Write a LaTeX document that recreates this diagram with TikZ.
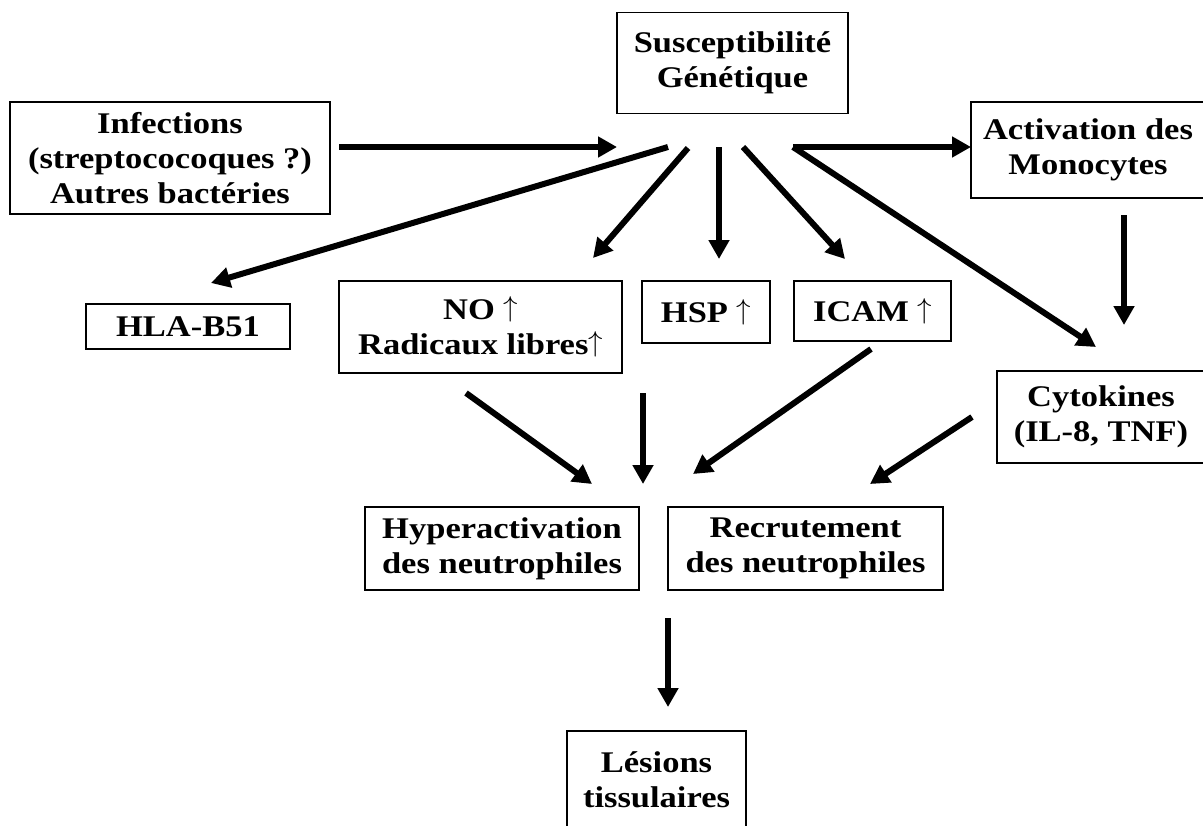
\documentclass[tikz,border=0pt]{standalone}
\usepackage{fontspec}
\setmainfont{Liberation Serif}[FakeStretch=1.15]
\usetikzlibrary{arrows.meta}
\newcommand{\uparr}{\raisebox{1.6pt}{$\uparrow$}}
\begin{document}
\begin{tikzpicture}[x=0.5pt,y=-0.5pt,
  box/.style={draw=black, line width=0.85pt, inner sep=2pt, align=center,
    font=\bfseries\fontsize{15}{17.5}\selectfont},
  arr/.style={line width=3pt, -{Triangle[length=9.5pt,width=10pt]}}]
\useasboundingbox[fill=white] (0,0) rectangle (1203,825);
% boxes
\node[box, minimum width=115.5pt, minimum height=50.5pt] (sus) at (732.5,63) {Susceptibilité\\Génétique};
\node[box, minimum width=160pt, minimum height=56pt] (inf) at (170,158) {Infections\\(streptococoques ?)\\Autres bactéries};
\node[box, minimum width=117pt, minimum height=48pt] (act) at (1088,150) {Activation des\\Monocytes};
\node[box, minimum width=102pt, minimum height=22.5pt] (hla) at (188,326.5) {HLA-B51};
\node[box, minimum width=141.5pt, minimum height=46pt] (no) at (480.5,327) {NO \uparr\\Radicaux libres\uparr};
\node[box, minimum width=64pt, minimum height=31pt] (hsp) at (706,312) {HSP \uparr};
\node[box, minimum width=78.5pt, minimum height=30pt] (icam) at (872.5,311) {ICAM \uparr};
\node[box, minimum width=104pt, minimum height=46pt] (cyt) at (1101,417) {Cytokines\\(IL-8, TNF)};
\node[box, minimum width=137pt, minimum height=41.5pt] (hyp) at (502,548.5) {Hyperactivation\\des neutrophiles};
\node[box, minimum width=137.5pt, minimum height=41.5pt] (rec) at (805.5,548.5) {Recrutement\\des neutrophiles};
\node[box, minimum width=89.5pt, anchor=north, inner ysep=10.5pt] (les) at (656.5,730) {Lésions\\tissulaires\\~};
% connector end points
\coordinate (infOut) at (339,147);
\coordinate (hubIn) at (617,147);
\coordinate (hubA) at (668,147);
\coordinate (hlaIn) at (211,283);
\coordinate (hubB) at (688,148);
\coordinate (noIn) at (593,258);
\coordinate (hubC) at (719,147);
\coordinate (hspIn) at (719,259);
\coordinate (hubD) at (743,147);
\coordinate (icamIn) at (845,259);
\coordinate (hubE) at (793,147);
\coordinate (actIn) at (971,147);
\coordinate (cytIn) at (1096,347);
\coordinate (actOut) at (1124,215);
\coordinate (cytTop) at (1124,325);
\coordinate (noOut) at (466,393);
\coordinate (hypIn) at (592,484);
\coordinate (midOut) at (643,393);
\coordinate (midIn) at (643,484);
\coordinate (icamOut) at (871,349);
\coordinate (recInA) at (693,474);
\coordinate (cytOut) at (972,417);
\coordinate (recInB) at (870,484);
\coordinate (lesOut) at (668,618);
\coordinate (lesIn) at (668,707);
% connectors
\draw[arr] (infOut) -- (hubIn);
\draw[arr] (hubA) -- (hlaIn);
\draw[arr] (hubB) -- (noIn);
\draw[arr] (hubC) -- (hspIn);
\draw[arr] (hubD) -- (icamIn);
\draw[arr] (hubE) -- (actIn);
\draw[arr] (hubE) -- (cytIn);
\draw[arr] (actOut) -- (cytTop);
\draw[arr] (noOut) -- (hypIn);
\draw[arr] (midOut) -- (midIn);
\draw[arr] (icamOut) -- (recInA);
\draw[arr] (cytOut) -- (recInB);
\draw[arr] (lesOut) -- (lesIn);
\end{tikzpicture}
\end{document}
